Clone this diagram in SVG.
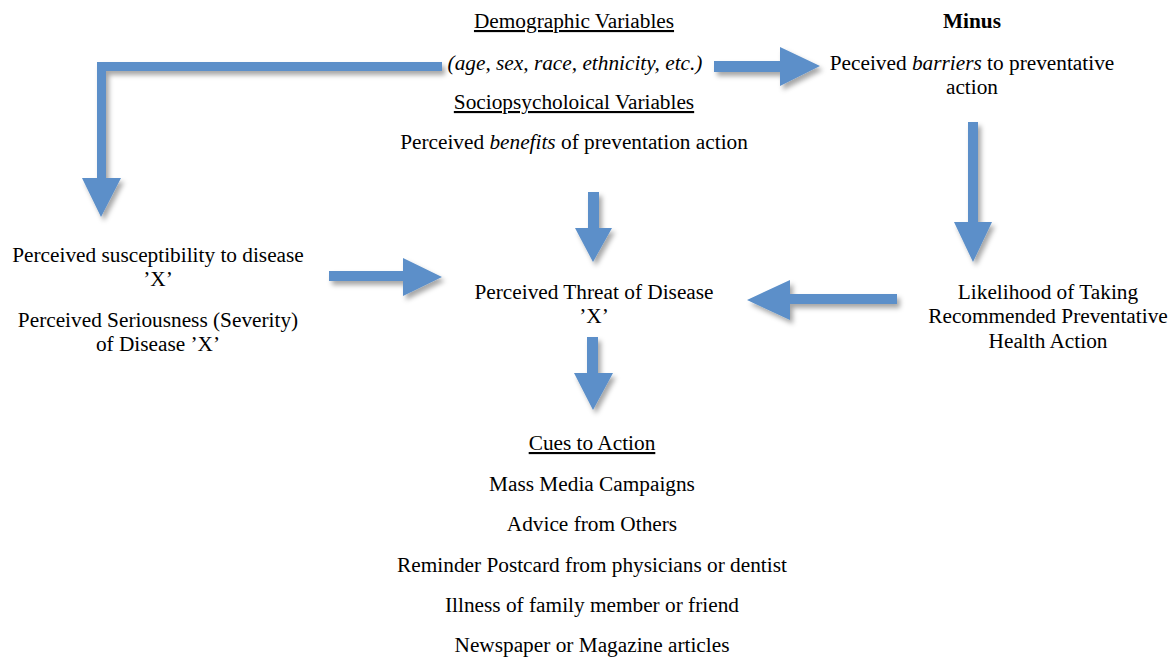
<svg xmlns="http://www.w3.org/2000/svg" width="1173" height="657" viewBox="0 0 1173 657">
<defs>
<filter id="sh" x="-30%" y="-30%" width="160%" height="160%">
<feDropShadow dx="3" dy="4" stdDeviation="2.5" flood-color="#000" flood-opacity="0.35"/>
</filter>
</defs>
<style>
text{font-family:"Liberation Serif","Times New Roman",serif;font-size:21.3px;fill:#000;text-anchor:middle}
.u{text-decoration:underline}
.i{font-style:italic}
.b{font-weight:bold}
.arr{fill:#5B8FC9;filter:url(#sh)}
</style>
<rect width="1173" height="657" fill="#fff"/>
<g id="connectors">
<path class="arr" d="M442,62 L442,71 L106,71 L106,178 L121,178 L101,217 L82,178 L97,178 L97,62 Z"/>
<path class="arr" d="M714,61 L780,61 L780,47 L820,66 L780,86 L780,72 L714,72 Z"/>
<path class="arr" d="M968,122 L978,122 L978,222 L992,222 L973,262 L954,222 L968,222 Z"/>
<path class="arr" d="M588,192 L599,192 L599,228 L612,228 L593,262 L575,228 L588,228 Z"/>
<path class="arr" d="M329,271 L403,271 L403,258 L442,277 L403,296 L403,281 L329,281 Z"/>
<path class="arr" d="M897,294 L790,294 L790,280 L747,300 L790,320 L790,304 L897,304 Z"/>
<path class="arr" d="M587,337 L598,337 L598,373 L613,373 L593,410 L574,373 L587,373 Z"/>
</g>
<g id="demographic">
<text x="574" y="28" class="u">Demographic Variables</text>
<text x="575" y="70" class="i">(age, sex, race, ethnicity, etc.)</text>
<text x="574" y="109" class="u">Sociopsycholoical Variables</text>
<text x="574" y="149">Perceived <tspan class="i">benefits</tspan> of preventation action</text>
</g>
<g id="barriers">
<text x="972" y="28" class="b">Minus</text>
<text x="972" y="70">Peceived <tspan class="i">barriers</tspan> to preventative</text>
<text x="972" y="94">action</text>
</g>
<g id="susceptibility">
<text x="158" y="262">Perceived susceptibility to disease</text>
<text x="158" y="286">’X’</text>
<text x="158" y="327">Perceived Seriousness (Severity)</text>
<text x="158" y="351">of Disease ’X’</text>
</g>
<g id="threat">
<text x="594" y="299">Perceived Threat of Disease</text>
<text x="594" y="323">’X’</text>
</g>
<g id="likelihood">
<text x="1048" y="299">Likelihood of Taking</text>
<text x="1048" y="323">Recommended Preventative</text>
<text x="1048" y="348">Health Action</text>
</g>
<g id="cues">
<text x="592" y="450" class="u">Cues to Action</text>
<text x="592" y="491">Mass Media Campaigns</text>
<text x="592" y="531">Advice from Others</text>
<text x="592" y="572">Reminder Postcard from physicians or dentist</text>
<text x="592" y="612">Illness of family member or friend</text>
<text x="592" y="652">Newspaper or Magazine articles</text>
</g>
</svg>
